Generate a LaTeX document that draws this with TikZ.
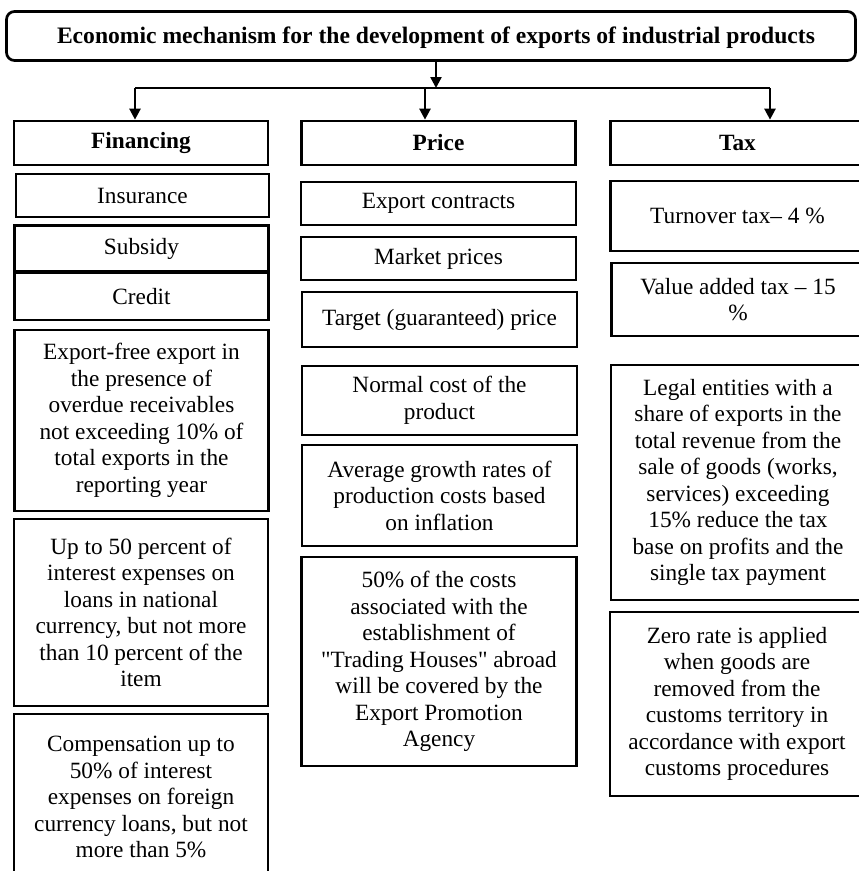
\documentclass[tikz,border=0pt]{standalone}
\usepackage{fontspec}
\setmainfont{Liberation Serif}[Ligatures=TeXOff]
\usetikzlibrary{arrows.meta}
\begin{document}
\begin{tikzpicture}[x=1pt,y=-1pt,
  box/.style={draw, line width=2.7pt, align=center, inner sep=0pt, font=\fontsize{23.3}{26.5}\selectfont},
  headbox/.style={box, font=\fontsize{23.3}{26.5}\selectfont\bfseries},
  arr/.style={line width=2.4pt, -{Triangle[width=11pt,length=11pt]}},
  link/.style={line width=2.4pt}]
\useasboundingbox (0,0) rectangle (859,871);
% title
\node[box, rounded corners=8pt, minimum width=849pt, minimum height=49pt] (title) at (431,36) {};
\node[font=\fontsize{23.6}{26.5}\selectfont\bfseries, inner sep=0pt] (titletext) at (436,38)
  {Economic mechanism for the development of exports of industrial products};
% headers
\node[headbox, minimum width=254pt, minimum height=44pt] (fin) at (141,143) {Financing};
\node[headbox, minimum width=274pt, minimum height=44pt] (price) at (438.5,143) {Price};
\node[headbox, minimum width=254pt, minimum height=44pt] (tax) at (737.5,143) {Tax};
% connectors
\coordinate (j) at (436,88);
\coordinate (jl) at (135,88);
\coordinate (jm) at (425,88);
\coordinate (jr) at (770,88);
\draw[arr] (j |- title.south) -- (j);
\draw[link] (jl) -- (jr);
\draw[arr] (jl) -- (jl |- fin.north);
\draw[arr] (jm) -- (jm |- price.north);
\draw[arr] (jr) -- (jr |- tax.north);
% financing column
\node[box, minimum width=253pt, minimum height=43pt] (ins) at (142.5,195.5) {Insurance};
\node[box, minimum width=254pt, minimum height=46pt] (sub) at (141.5,248.5) {Subsidy};
\node[box, minimum width=254pt, minimum height=47pt] (cred) at (141.5,296.5) {Credit};
\node[box, minimum width=254pt, minimum height=181pt] (expfree) at (141.5,420.5)
  {Export-free export in\\the presence of\\overdue receivables\\not exceeding 10\% of\\total exports in the\\reporting year};
\node[box, minimum width=254pt, minimum height=187pt] (upto) at (141,612.5)
  {Up to 50 percent of\\interest expenses on\\loans in national\\currency, but not more\\than 10 percent of the\\item};
\node[box, minimum width=254pt, minimum height=166pt] (comp) at (141,797)
  {Compensation up to\\50\% of interest\\expenses on foreign\\currency loans, but not\\more than 5\%};
% price column
\node[box, minimum width=275pt, minimum height=43pt] (expc) at (438.5,203.5) {Export contracts};
\node[box, minimum width=275pt, minimum height=43pt] (mkt) at (438.5,258.5) {Market prices};
\node[box, minimum width=275pt, minimum height=55pt] (tgt) at (439.5,319.5) {Target (guaranteed) price};
\node[box, minimum width=275pt, minimum height=69pt] (norm) at (439.5,400.5) {Normal cost of the\\product};
\node[box, minimum width=275pt, minimum height=101pt] (avg) at (439.5,495.5)
  {Average growth rates of\\production costs based\\on inflation};
\node[box, minimum width=275pt, minimum height=209pt] (costs) at (439,661.5)
  {50\% of the costs\\associated with the\\establishment of\\"Trading Houses" abroad\\will be covered by the\\Export Promotion\\Agency};
% tax column
\node[box, minimum width=254pt, minimum height=70pt] (turn) at (737.5,216) {Turnover tax– 4 \%};
\node[box, minimum width=253pt, minimum height=73pt] (vat) at (738,299.5) {Value added tax – 15\\\%};
\node[box, minimum width=254pt, minimum height=235pt] (legal) at (738,482.5)
  {Legal entities with a\\share of exports in the\\total revenue from the\\sale of goods (works,\\services) exceeding\\15\% reduce the tax\\base on profits and the\\single tax payment};
\node[box, minimum width=254pt, minimum height=184pt] (zero) at (737,704)
  {Zero rate is applied\\when goods are\\removed from the\\customs territory in\\accordance with export\\customs procedures};
\end{tikzpicture}
\end{document}
